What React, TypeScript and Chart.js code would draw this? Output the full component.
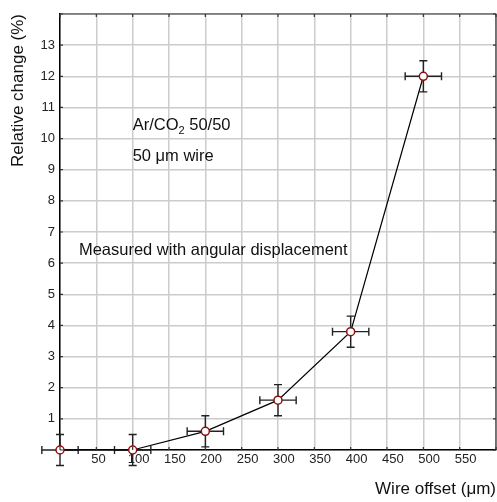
import { useEffect, useRef } from "react";
import { Chart, registerables } from "chart.js";

Chart.register(...registerables);

const wireOffset = [0, 100, 200, 300, 400, 500];
const relativeChange = [0, 0, 0.6, 1.6, 3.8, 12.0];
const offsetError = [25, 25, 25, 25, 25, 25];
const changeError = [0.5, 0.5, 0.5, 0.5, 0.5, 0.5];

const xRange = [0, 600];
const yRange = [0, 14];
const xStep = 50;
const yStep = 1;

const xTitle = "Wire offset (μm)";
const yTitle = "Relative change (%)";
const gasLabel = ["Ar/CO", "2", " 50/50"];
const wireLabel = "50 μm wire";
const methodLabel = "Measured with angular displacement";
const gasLabelPos = [100, 10.43];
const wireLabelPos = [100, 9.44];
const methodLabelPos = [26, 6.42];

const FONT = "'Liberation Sans', Arial, Helvetica, sans-serif";

const errorBarsPlugin = {
  id: "errorBars",
  beforeDatasetsDraw(chart: any) {
    const { ctx, scales } = chart;
    const x = scales.x;
    const y = scales.y;
    const cap = 4;
    ctx.save();
    ctx.strokeStyle = "#222222";
    ctx.lineWidth = 1.4;
    wireOffset.forEach((v, i) => {
      const px = x.getPixelForValue(v);
      const py = y.getPixelForValue(relativeChange[i]);
      const xl = x.getPixelForValue(v - offsetError[i]);
      const xr = x.getPixelForValue(v + offsetError[i]);
      const yt = y.getPixelForValue(relativeChange[i] + changeError[i]);
      const yb = y.getPixelForValue(relativeChange[i] - changeError[i]);
      ctx.beginPath();
      ctx.moveTo(xl, py);
      ctx.lineTo(xr, py);
      ctx.moveTo(xl, py - cap);
      ctx.lineTo(xl, py + cap);
      ctx.moveTo(xr, py - cap);
      ctx.lineTo(xr, py + cap);
      ctx.moveTo(px, yt);
      ctx.lineTo(px, yb);
      ctx.moveTo(px - cap, yt);
      ctx.lineTo(px + cap, yt);
      ctx.moveTo(px - cap, yb);
      ctx.lineTo(px + cap, yb);
      ctx.stroke();
    });
    ctx.restore();
  },
};

const framePlugin = {
  id: "frame",
  afterDraw(chart: any) {
    const { ctx, chartArea, scales } = chart;
    const { left, right, top, bottom } = chartArea;
    const t = 3;
    ctx.save();
    ctx.strokeStyle = "#333333";
    ctx.lineWidth = 1.2;
    ctx.beginPath();
    ctx.moveTo(left, top);
    ctx.lineTo(right, top);
    ctx.lineTo(right, bottom);
    ctx.stroke();
    ctx.beginPath();
    scales.x.ticks.forEach((tk: any) => {
      const px = scales.x.getPixelForValue(tk.value);
      ctx.moveTo(px, top);
      ctx.lineTo(px, top + t);
      ctx.moveTo(px, bottom);
      ctx.lineTo(px, bottom - t);
    });
    scales.y.ticks.forEach((tk: any) => {
      const py = scales.y.getPixelForValue(tk.value);
      ctx.moveTo(right, py);
      ctx.lineTo(right - t, py);
      ctx.moveTo(left, py);
      ctx.lineTo(left + t, py);
    });
    ctx.stroke();
    ctx.restore();
  },
};

const labelsPlugin = {
  id: "labels",
  afterDatasetsDraw(chart: any) {
    const { ctx, scales } = chart;
    const x = scales.x;
    const y = scales.y;
    ctx.save();
    ctx.fillStyle = "#111111";
    ctx.textBaseline = "middle";
    ctx.textAlign = "left";
    ctx.font = `16.5px ${FONT}`;
    let gx = x.getPixelForValue(gasLabelPos[0]);
    const gy = y.getPixelForValue(gasLabelPos[1]);
    ctx.fillText(gasLabel[0], gx, gy);
    gx += ctx.measureText(gasLabel[0]).width;
    ctx.font = `11px ${FONT}`;
    ctx.fillText(gasLabel[1], gx, gy + 6);
    gx += ctx.measureText(gasLabel[1]).width;
    ctx.font = `16.5px ${FONT}`;
    ctx.fillText(gasLabel[2], gx, gy);
    ctx.fillText(wireLabel, x.getPixelForValue(wireLabelPos[0]), y.getPixelForValue(wireLabelPos[1]));
    ctx.fillText(methodLabel, x.getPixelForValue(methodLabelPos[0]), y.getPixelForValue(methodLabelPos[1]));
    ctx.restore();
  },
};

export default function App() {
  const ref = useRef<HTMLCanvasElement | null>(null);
  useEffect(() => {
    if (!ref.current) return;
    const chart = new Chart(ref.current, {
      type: "scatter",
      data: {
        datasets: [
          {
            data: wireOffset.map((v, i) => ({ x: v, y: relativeChange[i] })),
            showLine: true,
            borderColor: "#000000",
            borderWidth: 1.2,
            tension: 0,
            pointRadius: 4,
            pointHoverRadius: 4,
            pointBorderColor: "#8b1010",
            pointBackgroundColor: "#ffffff",
            pointBorderWidth: 1.5,
            clip: false as any,
          },
        ],
      },
      options: {
        animation: false,
        responsive: false,
        events: [],
        layout: { autoPadding: false, padding: { top: 14, right: 1, left: 0, bottom: 0 } },
        plugins: {
          legend: { display: false },
          tooltip: { enabled: false },
        },
        scales: {
          x: {
            type: "linear",
            min: xRange[0],
            max: xRange[1],
            afterFit: (s: any) => {
              s.height = 52;
              s.paddingLeft = 0;
              s.paddingRight = 0;
            },
            ticks: {
              stepSize: xStep,
              align: "start",
              labelOffset: -5,
              padding: 2,
              color: "#222222",
              font: { family: FONT, size: 13 },
              callback: (v: any) => (v === xRange[0] || v === xRange[1] ? "" : String(v)),
            },
            grid: { color: "#cccccc", lineWidth: 1.5, drawTicks: false },
            border: { color: "#000000", width: 1.5 },
            title: {
              display: true,
              text: xTitle,
              align: "end",
              color: "#111111",
              font: { family: FONT, size: 17 },
              padding: { top: 0, bottom: 2 },
            },
          },
          y: {
            type: "linear",
            min: yRange[0],
            max: yRange[1],
            afterFit: (s: any) => {
              s.width = 60;
              s.paddingTop = 0;
              s.paddingBottom = 0;
            },
            ticks: {
              stepSize: yStep,
              padding: 5,
              color: "#222222",
              font: { family: FONT, size: 13 },
              callback: (v: any) => (v === yRange[0] || v === yRange[1] ? "" : String(v)),
            },
            grid: { color: "#cccccc", lineWidth: 1.5, drawTicks: false },
            border: { color: "#000000", width: 1.5 },
            title: {
              display: true,
              text: yTitle,
              align: "end",
              color: "#111111",
              font: { family: FONT, size: 17 },
              padding: { top: 8, bottom: 0 },
            },
          },
        },
      },
      plugins: [errorBarsPlugin, labelsPlugin, framePlugin],
    });
    return () => chart.destroy();
  }, []);
  return (
    <div style={{ position: "fixed", left: 0, top: 0, width: 497, height: 502, background: "#ffffff" }}>
      <canvas ref={ref} width={497} height={502} style={{ display: "block" }} />
    </div>
  );
}
